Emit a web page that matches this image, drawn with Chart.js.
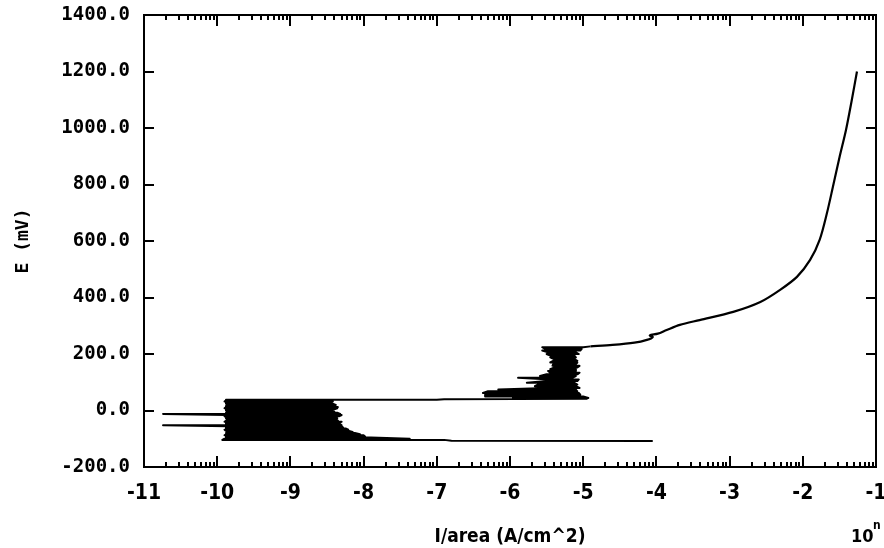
<!DOCTYPE html>
<html>
<head>
<meta charset="utf-8">
<script src="https://cdn.jsdelivr.net/npm/chart.js@4.4.1/dist/chart.umd.min.js"></script>
<style>
  body { margin: 0; background: #fff; }
  canvas { display: block; }
</style>
</head>
<body>
<canvas id="myChart" width="884" height="548"></canvas>
<script>
'use strict';

// x is log10 of I/area (A/cm^2), y is E in mV
let xTicks = [-11, -10, -9, -8, -7, -6, -5, -4, -3, -2, -1];
let yTicks = [-200, 0, 200, 400, 600, 800, 1000, 1200, 1400];

// cathodic branch, scanned from the right towards the noisy region
let cathodicLogI = [-4.05, -6.8, -6.9, -9.93];
let cathodicE = [-108, -107, -104, -104];

// first noisy block (rows: potential, left end, right end)
let noiseLowE = [-100, -96, -92, -88, -84, -80, -76, -72, -68, -64, -60, -56, -52, -48, -44, -40, -36, -32,
    -28, -24, -20, -16, -12, -8, -4, 0, 4, 8, 12, 16, 20, 24, 28, 32, 36];
let noiseLowLo = [-9.9, -9.88, -9.88, -9.9, -9.88, -9.88, -9.86, -9.88, -9.9, -9.88, -9.88, -9.86, -10.74, -9.88,
    -9.88, -9.9, -9.88, -9.86, -9.88, -9.88, -9.9, -9.88, -10.74, -9.88, -9.86, -9.88, -9.88, -9.9, -9.88, -9.88,
    -9.86, -9.88, -9.88, -9.9, -9.88];
let noiseLowHi = [-7.37, -7.9, -7.98, -8.0, -8.05, -8.12, -8.15, -8.2, -8.21, -8.24, -8.28, -8.3, -8.3, -8.32,
    -8.36, -8.3, -8.35, -8.4, -8.36, -8.38, -8.33, -8.3, -8.32, -8.36, -8.4, -8.45, -8.4, -8.36, -8.35, -8.42,
    -8.38, -8.42, -8.45, -8.42, -8.42];

// jump across to the second region
let bridgeLogI = [-9.88, -7.0, -6.9, -4.95];
let bridgeE = [38, 38, 40, 42];

// second noisy block
let noiseHighE = [44, 50, 56, 62, 68, 74, 80, 86, 92, 98, 104, 110, 116, 122, 128, 134, 140, 146, 152, 158,
    164, 170, 176, 182, 188, 194, 200, 206, 212, 218, 224];
let noiseHighLo = [-5.96, -6.34, -6.34, -6.37, -6.3, -6.16, -5.5, -5.66, -5.62, -5.77, -5.5, -5.45, -5.89, -5.59,
    -5.5, -5.45, -5.48, -5.45, -5.4, -5.42, -5.41, -5.45, -5.41, -5.4, -5.45, -5.45, -5.5, -5.48, -5.56, -5.52, -5.56];
let noiseHighHi = [-4.93, -5.0, -5.04, -5.06, -5.08, -5.1, -5.05, -5.1, -5.08, -5.12, -5.08, -5.06, -5.15, -5.1,
    -5.08, -5.05, -5.1, -5.1, -5.08, -5.05, -5.1, -5.08, -5.08, -5.12, -5.1, -5.12, -5.06, -5.1, -5.04, -5.02, -5.0];

// anodic branch up to the end of the scan
let anodicLogI = [-4.9, -4.6, -4.3, -4.13, -4.05, -4.09, -3.98, -3.86, -3.68, -3.41, -2.95, -2.58, -2.31, -2.08,
    -1.9, -1.77, -1.67, -1.59, -1.5, -1.41, -1.33, -1.26];
let anodicE = [227, 232, 240, 250, 260, 266, 272, 285, 303, 320, 349, 384, 427, 473, 533, 604, 699, 790, 895,
    993, 1100, 1200];

let points = [];
let anodicPoints = [];

function addLine(arr, xs, ys) {
    for (let i = 0; i < xs.length; i++) {
        arr.push({ x: xs[i], y: ys[i] });
    }
}

function addRows(es, lo, hi) {
    for (let i = 0; i < es.length; i++) {
        if (i % 2 === 0) {
            points.push({ x: lo[i], y: es[i] }, { x: hi[i], y: es[i] });
        } else {
            points.push({ x: hi[i], y: es[i] }, { x: lo[i], y: es[i] });
        }
    }
}

addLine(points, cathodicLogI, cathodicE);
addRows(noiseLowE, noiseLowLo, noiseLowHi);
addLine(points, bridgeLogI, bridgeE);
addRows(noiseHighE, noiseHighLo, noiseHighHi);
addLine(anodicPoints, anodicLogI, anodicE);
points.push(anodicPoints[0]);

let tickFont = { family: 'DejaVu Sans Mono', size: 19, weight: 'bold' };
let xFont = { family: 'DejaVu Sans Condensed, DejaVu Sans', size: 21, weight: 'bold' };

// frame plus inward ticks on all four sides
let framePlugin = {
    id: 'frame',
    afterDraw(chart) {
        let ctx = chart.ctx;
        let a = chart.chartArea;
        let xs = chart.scales.x;
        let ys = chart.scales.y;
        ctx.save();
        ctx.strokeStyle = '#000';
        ctx.lineWidth = 2;
        ctx.strokeRect(a.left, a.top, a.right - a.left, a.bottom - a.top);

        ctx.beginPath();
        for (let d = xTicks[0]; d < xTicks[xTicks.length - 1]; d++) {
            for (let k = 2; k <= 10; k++) {
                let px = Math.round(xs.getPixelForValue(d + Math.log10(k)));
                let len = k === 10 ? 11 : 5;
                ctx.moveTo(px, a.bottom);
                ctx.lineTo(px, a.bottom - len);
                ctx.moveTo(px, a.top);
                ctx.lineTo(px, a.top + len);
            }
        }
        yTicks.forEach(function (v) {
            let py = Math.round(ys.getPixelForValue(v));
            ctx.moveTo(a.left, py);
            ctx.lineTo(a.left + 10, py);
            ctx.moveTo(a.right, py);
            ctx.lineTo(a.right - 10, py);
        });
        ctx.stroke();

        ctx.fillStyle = '#000';
        ctx.textBaseline = 'middle';
        ctx.textAlign = 'left';
        ctx.font = 'bold 18px "DejaVu Sans Condensed", "DejaVu Sans"';
        ctx.fillText('10', 851, 537);
        ctx.font = 'bold 12px "DejaVu Sans Condensed", "DejaVu Sans"';
        ctx.fillText('n', 873, 526);
        ctx.restore();
    }
};

let ctx = document.getElementById('myChart').getContext('2d');
let myChart = new Chart(ctx, {
    type: 'scatter',
    data: {
        datasets: [{
            label: 'E vs I/area',
            data: points,
            showLine: true,
            borderColor: '#000',
            borderWidth: 2,
            borderJoinStyle: 'round',
            pointRadius: 0,
            tension: 0
        }, {
            label: 'anodic',
            data: anodicPoints,
            showLine: true,
            borderColor: '#000',
            borderWidth: 2.2,
            borderJoinStyle: 'round',
            pointRadius: 0,
            tension: 0.3
        }]
    },
    options: {
        responsive: false,
        animation: false,
        devicePixelRatio: 1,
        layout: { padding: { left: 0, right: 8, top: 15, bottom: 0 } },
        plugins: {
            legend: { display: false },
            tooltip: { enabled: false }
        },
        scales: {
            x: {
                type: 'linear',
                min: -11,
                max: -1,
                afterFit(scale) {
                    scale.height = 81;
                    scale.paddingLeft = 0;
                    scale.paddingRight = 0;
                },
                afterBuildTicks(scale) { scale.ticks = xTicks.map(v => ({ value: v })); },
                grid: { display: false, drawTicks: false },
                border: { display: false },
                ticks: {
                    color: '#000',
                    font: xFont,
                    padding: 14,
                    maxRotation: 0,
                    autoSkip: false,
                    callback: v => String(v)
                },
                title: {
                    display: true,
                    text: 'I/area (A/cm^2)',
                    color: '#000',
                    font: { family: 'DejaVu Sans Condensed, DejaVu Sans', size: 19, weight: 'bold' },
                    padding: { top: 0, bottom: 0 }
                }
            },
            y: {
                type: 'linear',
                min: -200,
                max: 1400,
                afterFit(scale) {
                    scale.width = 144;
                    scale.paddingTop = 0;
                    scale.paddingBottom = 0;
                },
                afterBuildTicks(scale) { scale.ticks = yTicks.map(v => ({ value: v })); },
                grid: { display: false, drawTicks: false },
                border: { display: false },
                ticks: {
                    color: '#000',
                    font: tickFont,
                    padding: 14,
                    autoSkip: false,
                    callback: v => v.toFixed(1)
                },
                title: {
                    display: true,
                    text: 'E (mV)',
                    color: '#000',
                    font: { family: 'DejaVu Sans Mono', size: 18, weight: 'bold' },
                    padding: { top: 13, bottom: 0 }
                }
            }
        }
    },
    plugins: [framePlugin]
});
</script>
</body>
</html>
